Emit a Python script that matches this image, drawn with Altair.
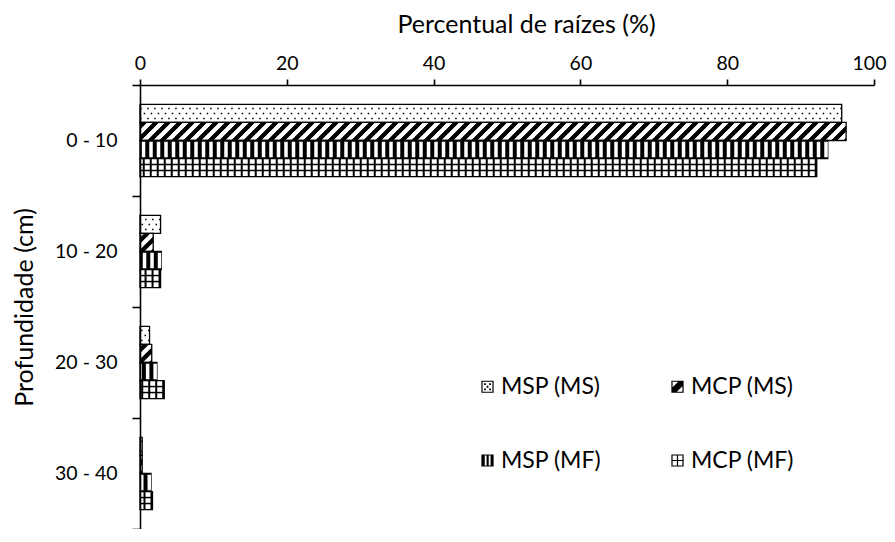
import altair as alt
import pandas as pd

# ---- data ----
profundidade = ["0 - 10", "10 - 20", "20 - 30", "30 - 40"]
series = ["MSP (MS)", "MCP (MS)", "MSP (MF)", "MCP (MF)"]
msp_ms = [95.6, 2.8, 1.3, 0.3]
mcp_ms = [96.2, 1.8, 1.6, 0.3]
msp_mf = [93.7, 2.9, 2.3, 1.5]
mcp_mf = [92.2, 2.8, 3.3, 1.7]

rows = []
for s, vals in zip(series, [msp_ms, mcp_ms, msp_mf, mcp_mf]):
    for p, v in zip(profundidade, vals):
        rows.append({"prof": p, "serie": s, "valor": v})
df = pd.DataFrame(rows)

# ---- geometry ----
W, H = 734, 444
FILL_FRAC = 0.65
step = H / 4.0
bw = step * FILL_FRAC
barh = bw / 4.0
FONT = "Lato"


def center_off(i):
    return (i - 1.5) * barh


x_enc = alt.X(
    "valor:Q",
    stack=None,
    scale=alt.Scale(domain=[0, 100], nice=False, zero=True),
    axis=alt.Axis(
        orient="top", values=[0, 20, 40, 60, 80, 100], title="Percentual de raízes (%)",
        grid=False, domain=True, ticks=True, tickSize=6, labelPadding=6, labelFlush=False,
        labelAlign={"condition": {"test": "datum.value == 100", "value": "right"}, "value": "center"},
        labelOffset={"condition": {"test": "datum.value == 100", "value": 12}, "value": 0},
        titlePadding=16, titleX=386, zindex=2,
    ),
)
y_enc = alt.Y(
    "prof:N",
    sort=profundidade,
    scale=alt.Scale(paddingInner=0, paddingOuter=0),
    axis=alt.Axis(
        title="Profundidade (cm)", tickBand="extent", domain=True, ticks=True, tickSize=8,
        labelPadding=15, titlePadding=17, labelAngle=0, zindex=2,
    ),
)
x2_zero = alt.datum(0)

base = alt.Chart(df)

bars = base.mark_bar(stroke="black", strokeWidth=1.3).encode(
    x=x_enc,
    x2=x2_zero,
    y=y_enc,
    yOffset=alt.YOffset(
        "serie:N", sort=series,
        scale=alt.Scale(domain=series, paddingInner=0, paddingOuter=0,
                        range=[(step - bw) / 2, (step + bw) / 2]),
    ),
    fill=alt.condition("datum.serie == 'MSP (MF)'", alt.value("black"), alt.value("white")),
)

layers = [bars]


def rule_layer(sname, off, **mk):
    return base.transform_filter(alt.datum.serie == sname).mark_rule(
        yOffset=off, **mk
    ).encode(x=x_enc, x2=x2_zero, y=y_enc)


# MSP (MS): dots
c0 = center_off(0)
for dy, ph in [(-5, 0), (0, 3.5), (5, 0)]:
    layers.append(rule_layer("MSP (MS)", c0 + dy, color="black", strokeWidth=1.5,
                             strokeDash=[1.5, 5.5], strokeDashOffset=ph))

# MCP (MS): upward diagonal stripes
c1 = center_off(1)
PER = 12
for k in range(-8, 9):
    layers.append(rule_layer("MCP (MS)", c1 + k, color="black", strokeWidth=1.15,
                             strokeDash=[6, 6], strokeDashOffset=(-k) % PER))

# MSP (MF): vertical stripes (white on black)
c2 = center_off(2)
layers.append(rule_layer("MSP (MF)", c2, color="white", strokeWidth=barh - 2.6,
                         strokeDash=[3.5, 4], strokeDashOffset=0))

# MCP (MF): grid
c3 = center_off(3)
layers.append(rule_layer("MCP (MF)", c3, color="black", strokeWidth=barh - 1,
                         strokeDash=[2, 5], strokeDashOffset=0))
for dy in (-3, 3):
    layers.append(rule_layer("MCP (MF)", c3 + dy, color="black", strokeWidth=1.5))

# legend (custom pattern-like symbols)
frame = "M-1,-1H1V1H-1Z M-0.8,-0.8V0.8H0.8V-0.8Z"
dot = lambda x, y: f"M{x-0.15},{y-0.15}H{x+0.15}V{y+0.15}H{x-0.15}Z"
sym_dots = frame + " " + " ".join(dot(x, y) for x, y in [(-0.42, -0.42), (0.42, -0.42), (0, 0), (-0.42, 0.42), (0.42, 0.42)])
sym_diag = frame + " M-0.8,0.8L-0.8,0.1L0.1,-0.8L0.8,-0.8L0.8,-0.1L-0.1,0.8Z"
sym_vert = "M-1,-1H1V1H-1Z M-0.45,-0.8V0.8H-0.15V-0.8Z M0.2,-0.8V0.8H0.5V-0.8Z"
sym_grid = frame + " M-0.8,-0.1H0.8V0.1H-0.8Z M-0.1,-0.8H0.1V0.8H-0.1Z"

legend_layer = base.transform_filter("false").mark_point(filled=True, color="black", opacity=1).encode(
    x=x_enc,
    y=y_enc,
    shape=alt.Shape(
        "serie:N",
        scale=alt.Scale(domain=series, range=[sym_dots, sym_diag, sym_vert, sym_grid]),
        legend=alt.Legend(
            orient="none", legendX=336, legendY=290, columns=2, direction="horizontal",
            title=None, labelFont=FONT, labelFontSize=23, labelColor="black",
            symbolSize=150, symbolStrokeWidth=0, symbolFillColor="black",
            columnPadding=64, rowPadding=50, labelOffset=2,
        ),
    ),
)
layers.append(legend_layer)

chart = alt.layer(*layers).properties(
    width=W, height=H,
    padding={"left": 132, "top": 77, "right": 13, "bottom": 0},
    autosize=alt.AutoSizeParams(type="none"),
).configure_view(stroke=None).configure_axis(
    labelFont=FONT, titleFont=FONT, labelFontSize=19.5, titleFontSize=25,
    titleFontWeight="normal", labelColor="black", titleColor="black",
    domainColor="black", tickColor="black", domainWidth=1.6, tickWidth=1.6,
)

chart.save("out.html", embed_options={"renderer": "svg", "actions": False})
